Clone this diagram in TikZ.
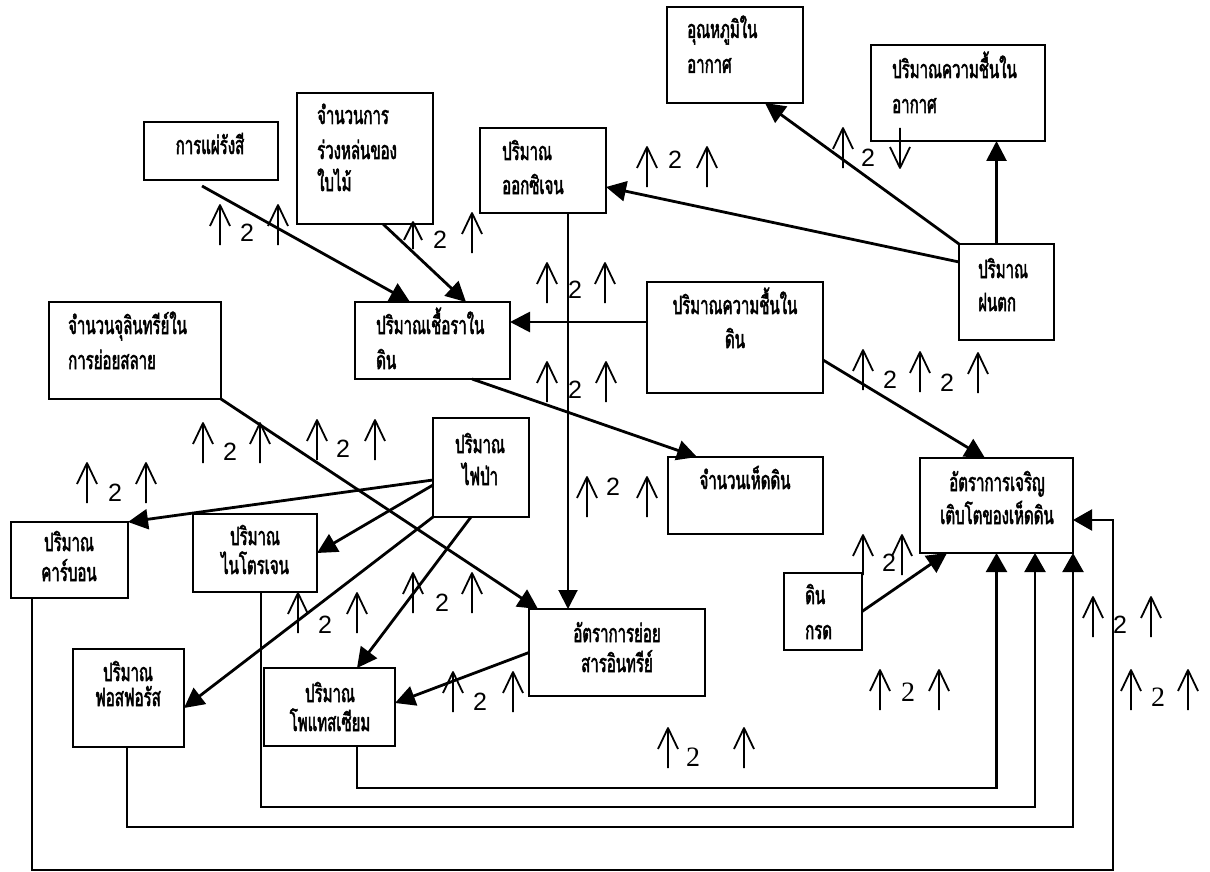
\documentclass[tikz,border=0pt]{standalone}
\usepackage{fontspec}
\newfontfamily\thaifont[Script=Thai,FakeStretch=0.6,FakeBold=2]{Loma}
\newfontfamily\digsans{Liberation Sans}
\newfontfamily\digserif{Liberation Serif}
\usetikzlibrary{arrows.meta}
\begin{document}
\begin{tikzpicture}[x=1pt,y=-1pt,
  box/.style={draw,line width=2.6pt,inner sep=0pt,outer sep=0pt,anchor=north west},
  lbl/.style={font=\thaifont\fontsize{25}{28}\selectfont,inner sep=0pt},
  lbll/.style={lbl,anchor=base west},
  lblc/.style={lbl,anchor=base},
  conn/.style={line width=2.8pt,-{Triangle[length=20pt,width=20pt]}},
  fb/.style={line width=2.2pt,-{Triangle[length=19pt,width=21pt]}},
  vconn/.style={line width=2pt,-{Triangle[length=19pt,width=19pt]}},
  hint/.style={line width=1.8pt,line join=round},
  two/.style={font=\digsans\fontsize{25}{25}\selectfont,inner sep=0pt},
  twoserif/.style={font=\digserif\fontsize{28}{28}\selectfont,inner sep=0pt},
  uparr/.pic={\draw[hint] (0,0) -- (0,40) (-10,21) -- (0,0) -- (10,21);},
  downarr/.pic={\draw[hint] (0,0) -- (0,40) (-10,19) -- (0,40) -- (10,19);},
]
\useasboundingbox (0,0) rectangle (1210,872);

% boxes: name, left, top, right, bottom
\newcommand\boxat[5]{\node[box,minimum width={(#4)-(#2)},minimum height={(#5)-(#3)}] (#1) at (#2,#3) {};}
\boxat{rad}{144}{122}{278}{180}
\boxat{lea}{297}{93}{433}{224}
\boxat{oxy}{480}{128}{606}{213}
\boxat{tmp}{667}{7}{803}{103}
\boxat{air}{871}{45}{1045}{141}
\boxat{rain}{959}{244}{1054}{340}
\boxat{mic}{49}{302}{221}{399}
\boxat{fun}{355}{302}{510}{379}
\boxat{soh}{647}{282}{823}{393}
\boxat{fir}{433}{418}{529}{517}
\boxat{mus}{668}{457}{823}{534}
\boxat{gro}{920}{458}{1073}{553}
\boxat{acd}{784}{573}{862}{650}
\boxat{car}{11}{522}{128}{598}
\boxat{nit}{193}{514}{317}{592}
\boxat{pho}{73}{649}{184}{747}
\boxat{pot}{264}{668}{395}{746}
\boxat{dec}{529}{609}{705}{696}

% box texts
\node[lblc] (radt) at (210,154) {การแผ่รังสี};
\node[lbll] (leat1) at (317,124) {จำนวนการ};
\node[lbll] (leat2) at (317,159) {ร่วงหล่นของ};
\node[lbll] (leat3) at (317,191) {ใบไม้};
\node[lbll] (oxyt1) at (502,160) {ปริมาณ};
\node[lbll] (oxyt2) at (502,194) {ออกซิเจน};
\node[lbll] (tmpt1) at (687,38) {อุณหภูมิใน};
\node[lbll] (tmpt2) at (687,73) {อากาศ};
\node[lbll] (airt1) at (892,78) {ปริมาณความชื้นใน};
\node[lbll] (airt2) at (892,113) {อากาศ};
\node[lbll] (raint1) at (978,278) {ปริมาณ};
\node[lbll] (raint2) at (978,311) {ฝนตก};
\node[lbll] (mict1) at (68,334) {จำนวนจุลินทรีย์ใน};
\node[lbll] (mict2) at (68,369) {การย่อยสลาย};
\node[lbll] (funt1) at (376,334) {ปริมาณเชื้อราใน};
\node[lbll] (funt2) at (376,369) {ดิน};
\node[lblc] (soht1) at (735,314) {ปริมาณความชื้นใน};
\node[lblc] (soht2) at (735,348) {ดิน};
\node[lblc] (firt1) at (480,453) {ปริมาณ};
\node[lblc] (firt2) at (480,485) {ไฟป่า};
\node[lblc] (must) at (745,489) {จำนวนเห็ดดิน};
\node[lblc] (grot1) at (997,491) {อัตราการเจริญ};
\node[lblc] (grot2) at (997,524) {เติบโตของเห็ดดิน};
\node[lbll] (acdt1) at (805,604) {ดิน};
\node[lbll] (acdt2) at (805,639) {กรด};
\node[lblc] (cart1) at (69,551) {ปริมาณ};
\node[lblc] (cart2) at (69,581) {คาร์บอน};
\node[lblc] (nitt1) at (255,545) {ปริมาณ};
\node[lblc] (nitt2) at (255,574) {ไนโตรเจน};
\node[lblc] (phot1) at (128,681) {ปริมาณ};
\node[lblc] (phot2) at (128,706) {ฟอสฟอรัส};
\node[lblc] (pott1) at (330,702) {ปริมาณ};
\node[lblc] (pott2) at (330,731) {โพแทสเซียม};
\node[lblc] (dect1) at (617,642) {อัตราการย่อย};
\node[lblc] (dect2) at (617,672) {สารอินทรีย์};

% cause-effect links
\draw[conn] ([xshift=-9pt,yshift=-6pt]rad.south) -- ([xshift=-22.5pt]fun.north);
\draw[conn] ([xshift=18pt]lea.south) -- ([xshift=33.5pt]fun.north);
\draw[vconn] ([xshift=25pt]oxy.south) -- ([xshift=-49pt]dec.north);
\draw[conn] ([yshift=30pt]rain.west) -- ([yshift=-16.5pt]oxy.east);
\draw[conn] (rain.north west) -- ([xshift=30pt]tmp.south);
\draw[conn] ([xshift=-10pt]rain.north) -- ([xshift=38.5pt]air.south);
\draw[conn] ([yshift=15.5pt]soh.west) -- ([yshift=18.5pt]fun.east);
\draw[conn] ([yshift=-22.5pt]soh.east) -- ([xshift=-11.5pt]gro.north);
\draw[conn] ([xshift=39.5pt]fun.south) -- ([xshift=-48.5pt]mus.north);
\draw[conn] (acd.east) -- ([xshift=-49.5pt]gro.south);
\draw[conn] (mic.south east) -- ([xshift=9pt]dec.north west);
\draw[conn] ([yshift=-12.5pt]fir.west) -- (car.north east);
\draw[conn] ([yshift=-17.5pt]fir.west) -- (nit.east);
\draw[conn] (fir.south west) -- ([yshift=-10pt]pho.east);
\draw[conn] ([xshift=-10pt]fir.south) -- ([xshift=27.5pt]pot.north);
\draw[conn] (dec.west) -- ([yshift=4pt]pot.east);

% nutrient feedback lines into the growth box
\draw[fb] ([xshift=27.5pt]pot.south) -- ++(0,42) -| (gro.south);
\draw[fb] ([xshift=6pt]nit.south) -- ++(0,215) -| ([xshift=38.5pt]gro.south);
\draw[fb] ([xshift=-1.5pt]pho.south) -- ++(0,80) -| (gro.south east);
\draw[fb] ([xshift=-37.5pt]car.south) -- ++(0,272) -- ++(1081,0) |- ([yshift=-14.5pt]gro.east);

% small up/down marks with the number 2
\pic at (220,205) {uparr}; \node[two] (h1) at (247,233) {2}; \pic at (278,205) {uparr};
\draw[hint] (413,249) -- (413,222) (404,240) -- (413,222) -- (422,240);
\node[two] (h2) at (440,240) {2}; \pic at (472,213) {uparr};
\pic at (647,147) {uparr}; \node[two] (h3) at (675,160) {2}; \pic at (707,147) {uparr};
\pic at (843,128) {uparr}; \node[two] (h4) at (868,158) {2}; \pic at (900,128) {downarr};
\pic at (547,263) {uparr}; \node[two] (h5) at (575,290) {2}; \pic at (605,263) {uparr};
\pic at (547,362) {uparr}; \node[two] (h6) at (575,390) {2}; \pic at (606,362) {uparr};
\pic at (587,477) {uparr}; \node[two] (h7) at (613,487) {2}; \pic at (647,477) {uparr};
\pic at (203,423) {uparr}; \node[two] (h8) at (230,452) {2}; \pic at (260,423) {uparr};
\pic at (317,420) {uparr}; \node[two] (h9) at (343,449) {2}; \pic at (375,420) {uparr};
\pic at (87,463) {uparr}; \node[two] (h10) at (115,493) {2}; \pic at (146,463) {uparr};
\pic at (298,593) {uparr}; \node[two] (h11) at (325,625) {2}; \pic at (357,593) {uparr};
\pic at (413,573) {uparr}; \node[two] (h12) at (442,603) {2}; \pic at (472,573) {uparr};
\pic at (453,672) {uparr}; \node[two] (h13) at (480,702) {2}; \pic at (513,672) {uparr};
\pic at (668,728) {uparr}; \node[twoserif] (h14) at (693,757) {2}; \pic at (744,728) {uparr};
\pic at (880,670) {uparr}; \node[twoserif] (h15) at (908,692) {2}; \pic at (939,670) {uparr};
\pic at (1093,597) {uparr}; \node[two] (h16) at (1120,625) {2}; \pic at (1151,597) {uparr};
\pic at (1131,670) {uparr}; \node[twoserif] (h17) at (1158,697) {2}; \pic at (1188,670) {uparr};
\pic at (863,535) {uparr}; \node[two] (h18) at (889,563) {2}; \pic at (902,535) {uparr};
\pic at (863,350) {uparr}; \node[two] (h19) at (890,380) {2}; \pic at (920,352) {uparr};
\node[two] (h20) at (947,383) {2}; \pic at (978,353) {uparr};
\end{tikzpicture}
\end{document}
